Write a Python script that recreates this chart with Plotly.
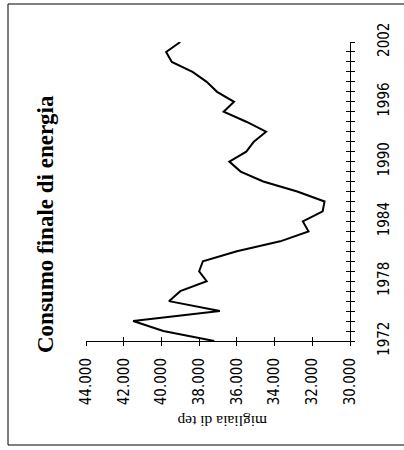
import plotly.graph_objects as go

years = list(range(1972, 2003))
consumo = [37.2, 39.9, 41.5, 36.9, 39.6, 39.0, 37.6, 38.0, 37.8, 36.0,
           33.7, 32.2, 32.5, 31.45, 31.35, 32.8, 34.6, 35.8, 36.4, 35.5,
           35.1, 34.45, 35.5, 36.7, 36.15, 37.05, 37.6, 38.35, 39.45, 39.75, 39.0]
value_ticks = [30, 32, 34, 36, 38, 40, 42, 44]
value_labels = ["30.000", "32.000", "34.000", "36.000", "38.000", "40.000", "42.000", "44.000"]
year_ticks = [1972, 1978, 1984, 1990, 1996, 2002]
year_labels = [str(y) for y in year_ticks]

title_text = "Consumo finale di energia"
unit_text = "migliaia di tep"

OFF = 0  # body margin removed via post_script
W, H = 404, 450
L, T = 86 - OFF, 42 - OFF
R = W - (350 - OFF)
B = H - (341 - OFF)
pw, ph = W - L - R, H - T - B

def px_x(p):
    return (p - OFF - L) / pw

def px_y(p):
    return 1 - (p - OFF - T) / ph

tickfont = dict(family="Liberation Sans Narrow, Arial Narrow, DejaVu Sans Condensed, sans-serif",
                size=15, color="black")

fig = go.Figure()
fig.add_trace(go.Scatter(x=consumo, y=years, mode="lines",
                         line=dict(color="black", width=2), hoverinfo="skip",
                         showlegend=False))
fig.add_trace(go.Scatter(x=consumo, y=years, mode="lines", xaxis="x2", yaxis="y2",
                         line=dict(color="rgba(0,0,0,0)", width=0), hoverinfo="skip",
                         showlegend=False))

fig.update_layout(
    width=W, height=H,
    margin=dict(l=L, r=R, t=T, b=B, pad=0),
    paper_bgcolor="white", plot_bgcolor="white",
    xaxis=dict(range=[44, 30], tickvals=value_ticks, ticktext=value_labels,
               tickangle=-90, tickfont=tickfont, showgrid=False, zeroline=False,
               showline=True, linecolor="black", linewidth=1,
               ticks="outside", ticklen=4, tickcolor="black", side="bottom",
               ticklabelstandoff=6),
    yaxis=dict(range=[1972, 2002], tickvals=year_ticks, ticktext=year_labels,
               tickangle=-90, tickfont=tickfont, showgrid=False, zeroline=False,
               showline=True, linecolor="black", linewidth=1, side="right",
               ticks="outside", ticklen=4, tickcolor="black",
               minor=dict(dtick=1, ticks="outside", ticklen=4, tickcolor="black"),
               ticklabelstandoff=16),
    xaxis2=dict(range=[44, 30], overlaying="x", anchor="y2", tickvals=value_ticks,
                showticklabels=False, showgrid=False, zeroline=False,
                ticks="inside", ticklen=4, tickcolor="black", side="bottom"),
    yaxis2=dict(range=[1972, 2002], overlaying="y", anchor="x2", side="right",
                tickvals=year_ticks, showticklabels=False, showgrid=False, zeroline=False,
                ticks="inside", ticklen=4, tickcolor="black",
                minor=dict(dtick=1, ticks="inside", ticklen=4, tickcolor="black")),
    annotations=[
        dict(text="<b>" + title_text + "</b>", textangle=-90, showarrow=False,
             xref="paper", yref="paper", x=px_x(45), y=px_y(224),
             xanchor="center", yanchor="middle",
             font=dict(family="Liberation Serif, Times New Roman, serif", size=23, color="black")),
        dict(text=unit_text, textangle=180, showarrow=False,
             xref="paper", yref="paper", x=px_x(222), y=px_y(422),
             xanchor="center", yanchor="middle",
             font=dict(family="Liberation Serif, Times New Roman, serif", size=15.5, color="black")),
    ],
    shapes=[
        dict(type="line", xref="paper", yref="paper", x0=px_x(8), x1=px_x(8),
             y0=px_y(4), y1=px_y(445), line=dict(color="black", width=1)),
        dict(type="line", xref="paper", yref="paper", x0=px_x(8), x1=px_x(404),
             y0=px_y(4), y1=px_y(4), line=dict(color="black", width=1)),
        dict(type="line", xref="paper", yref="paper", x0=px_x(8), x1=px_x(404),
             y0=px_y(445), y1=px_y(445), line=dict(color="black", width=1)),
    ],
)

fig.write_html("out.html", config={"displayModeBar": False},
               post_script="document.body.style.margin='0';")
